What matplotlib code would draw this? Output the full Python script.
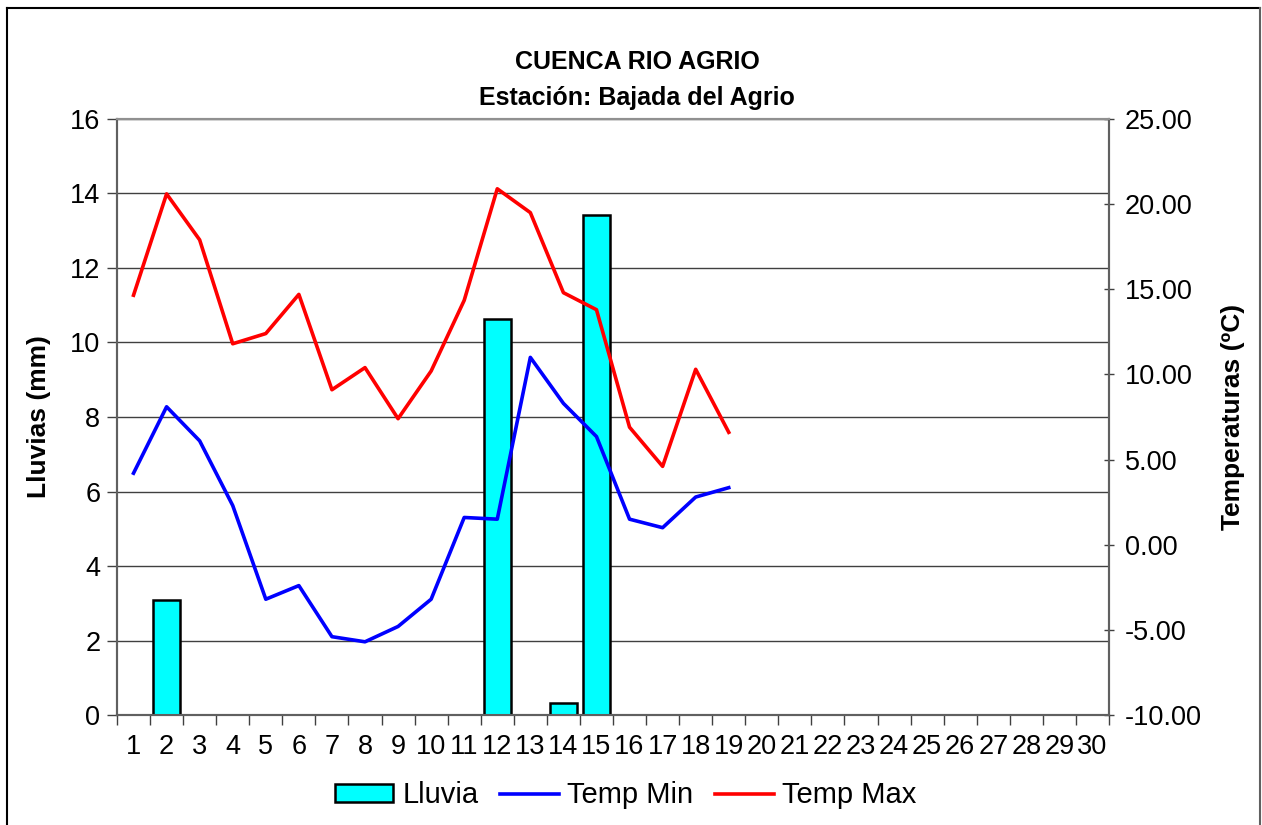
import numpy as np
import matplotlib
matplotlib.use('agg')
import matplotlib.pyplot as plt
from matplotlib.lines import Line2D
from matplotlib.ticker import FixedLocator, FuncFormatter

plt.rcParams['font.family'] = ['Liberation Sans', 'DejaVu Sans']

# datos
dias = list(range(1, 31))
lluvia_dias = [2, 12, 14, 15]
lluvia_mm = [3.1, 10.63, 0.32, 13.42]
temp_dias = list(range(1, 20))
temp_min = [4.2, 8.1, 6.1, 2.3, -3.2, -2.4, -5.4, -5.7, -4.8, -3.2,
            1.6, 1.5, 11.0, 8.3, 6.35, 1.5, 1.0, 2.8, 3.35]
temp_max = [14.65, 20.6, 17.9, 11.8, 12.4, 14.7, 9.1, 10.4, 7.4, 10.2,
            14.35, 20.9, 19.5, 14.8, 13.8, 6.9, 4.6, 10.3, 6.6]

fig = plt.figure(figsize=(12.62, 8.25), dpi=100)
ax = fig.add_axes([0.0927, 0.1333, 0.7861, 0.7225])
ax2 = ax.twinx()

# barras de lluvia
bars = ax.bar(lluvia_dias, lluvia_mm, width=0.8, color='#00FFFF',
              edgecolor='black', linewidth=1.8, label='Lluvia', zorder=3)
ax.set_xlim(0.5, 30.5)
ax.set_ylim(0, 16)
ax.set_yticks(np.arange(0, 17, 2))
ax.yaxis.grid(True, color='#404040', linewidth=1.0, zorder=0)
ax.set_axisbelow(True)
ax.set_xticks(dias)
ax.tick_params(axis='x', which='major', length=0, labelsize=19.5, pad=14)
ax.xaxis.set_minor_locator(FixedLocator(np.arange(0.5, 31, 1)))
ax.tick_params(axis='x', which='minor', length=7, width=1, color='#404040', direction='out')
ax.tick_params(axis='y', labelsize=19.5, length=7, width=1, color='#404040', pad=5)
ax.set_ylabel('Lluvias (mm)', fontsize=19, fontweight='bold', labelpad=14)

# temperaturas
l1, = ax2.plot(temp_dias, temp_min, color='#0000FF', linewidth=2.6, label='Temp Min', zorder=4)
l2, = ax2.plot(temp_dias, temp_max, color='#FF0000', linewidth=2.6, label='Temp Max', zorder=4)
ax2.set_ylim(-10, 25)
ax2.set_yticks(np.arange(-10, 26, 5))
ax2.yaxis.set_major_formatter(FuncFormatter(lambda v, p: f'{v:.2f}'))
ax2.tick_params(axis='y', labelsize=19.5, length=7, width=1, color='#404040',
                direction='inout', pad=8)
ax2.set_ylabel('Temperaturas (ºC)', fontsize=19, fontweight='bold', labelpad=14)

for a in (ax, ax2):
    for s in a.spines.values():
        s.set_color('#606060')
        s.set_linewidth(1.5)
ax.spines['top'].set_color('#909090')
ax2.spines['top'].set_color('#909090')

fig.text(0.505, 0.925, 'CUENCA RIO AGRIO', ha='center', va='center',
         fontsize=18, fontweight='bold')
fig.text(0.505, 0.881, 'Estación: Bajada del Agrio', ha='center', va='center',
         fontsize=18, fontweight='bold')

fig.legend(handles=[bars, l1, l2], loc='center', bbox_to_anchor=(0.496, 0.036),
           ncol=3, frameon=False, fontsize=21, handlelength=2.0, handleheight=0.6,
           columnspacing=0.75, handletextpad=0.3)

# marco exterior
fig.add_artist(Line2D([7 / 1262, 7 / 1262], [0, 1 - 8 / 825], color='black', linewidth=1.5))
fig.add_artist(Line2D([7 / 1262, 1260 / 1262], [1 - 8 / 825, 1 - 8 / 825], color='black', linewidth=1.5))
fig.add_artist(Line2D([1260 / 1262, 1260 / 1262], [0, 1 - 8 / 825], color='#606060', linewidth=1.5))

fig.savefig('out.png', dpi=100)
